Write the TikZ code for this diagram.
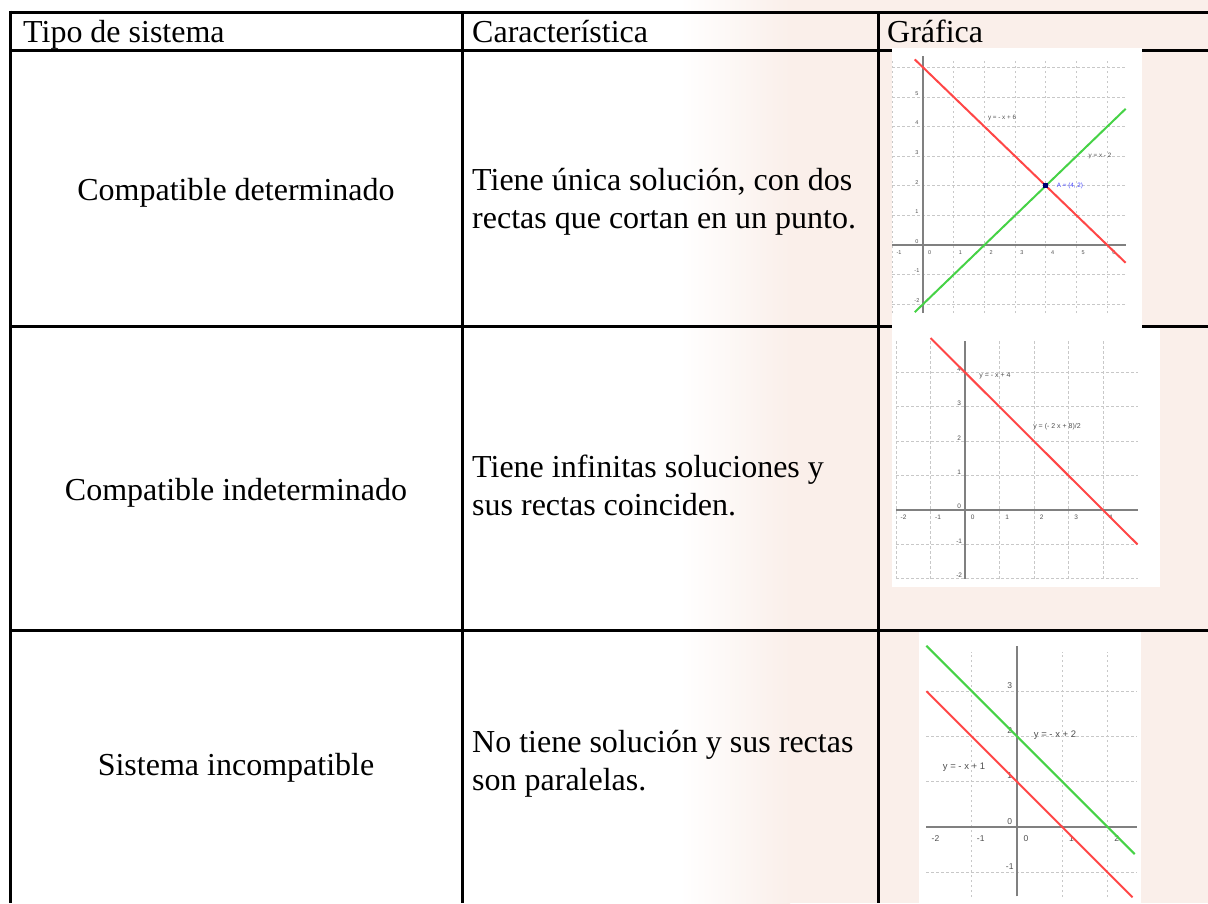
\documentclass[tikz,border=0pt]{standalone}
\usepackage{fontspec}
\setmainfont{Liberation Serif}
\newfontfamily\graphfont{Liberation Sans}
\definecolor{pinkbg}{RGB}{250,239,234}
\definecolor{gridc}{RGB}{200,200,200}
\definecolor{axisc}{RGB}{128,128,128}
\definecolor{redc}{RGB}{255,70,70}
\definecolor{greenc}{RGB}{70,210,70}
\definecolor{labc}{RGB}{80,80,80}
\definecolor{bluec}{RGB}{70,70,255}
\definecolor{navyc}{RGB}{0,0,110}
\begin{document}
\begin{tikzpicture}[x=1pt,y=-1pt,
  tline/.style={line width=3pt,black},
  celltext/.style={font=\fontsize{32}{37}\selectfont,inner sep=0pt,anchor=base west},
  celltextc/.style={font=\fontsize{32}{37}\selectfont,inner sep=0pt,anchor=base},
  gridl/.style={gridc,line width=0.9pt,dash pattern=on 2.5pt off 2.5pt},
  axisl/.style={axisc,line width=1.6pt},
  redl/.style={redc,line width=2pt},
  greenl/.style={greenc,line width=2pt},
  tickA/.style={font=\graphfont\fontsize{5.5}{6}\selectfont,labc,inner sep=0pt},
  tickB/.style={font=\graphfont\fontsize{6.5}{7}\selectfont,labc,inner sep=0pt},
  tickC/.style={font=\graphfont\fontsize{8.5}{9}\selectfont,labc,inner sep=0pt},
  eqA/.style={font=\graphfont\fontsize{6.3}{7}\selectfont,labc,inner sep=0pt},
  eqB/.style={font=\graphfont\fontsize{7}{8}\selectfont,labc,inner sep=0pt},
  eqC/.style={font=\graphfont\fontsize{9.5}{10}\selectfont,labc,inner sep=0pt}]
\useasboundingbox (0,0) rectangle (1208,903);
% background
\fill[white] (0,0) rectangle (680,903);
\shade[left color=white,right color=pinkbg] (680,0) rectangle (790,903);
\fill[pinkbg] (790,0) rectangle (1208,903);
% table rules
\draw[tline] (10,12) -- (1208,12);
\draw[tline] (10,50) -- (1208,50);
\draw[tline] (10,326) -- (1208,326);
\draw[tline] (10,630) -- (1208,630);
\draw[tline] (10,10.5) -- (10,903);
\draw[tline] (462,12) -- (462,903);
\draw[tline] (878,12) -- (878,903);
% graph backgrounds
\fill[white] (892,48) rectangle (1142,328);
\fill[white] (892,328) rectangle (1160,587);
\fill[white] (919,631.5) rectangle (1141,903);
% ---------- graph 1 ----------
\begin{scope}[shift={(923,245)},x=30.7pt,y=29.6pt]
  \foreach \i in {-1,1,2,...,6} \draw[gridl] (\i,-2.3) -- (\i,6.3);
  \foreach \j in {-2,-1,1,2,...,6} \draw[gridl] (-1,\j) -- (6.6,\j);
  \draw[axisl] (-1,0) -- (6.6,0);
  \draw[axisl] (0,-2.3) -- (0,6.4);
  \foreach \i in {-1,0,...,6} \node[tickA] (g1x\i) at (\i+0.22,-0.25) {\i};
  \foreach \j in {-2,-1,0,...,5} \node[tickA] (g1y\j) at (-0.2,\j+0.12) {\j};
  \draw[redl] (-0.27,6.27) -- (6.6,-0.6);
  \draw[greenl] (-0.27,-2.27) -- (6.6,4.6);
  \coordinate (ptA) at (4,2);
\end{scope}
\fill[navyc] (ptA) ++(-2.5pt,-2.5pt) rectangle ++(5pt,5pt);
\node[eqA] (g1e1) at (1002,118) {y = - x + 6};
\node[eqA] (g1e2) at (1100,156) {y = x - 2};
\node[eqA,bluec] (g1e3) at (1070,186) {A = (4, 2)};
% ---------- graph 2 ----------
\begin{scope}[shift={(965,510)},x=34.5pt,y=34.4pt]
  \foreach \i in {-2,-1,1,2,3,4} \draw[gridl] (\i,-2) -- (\i,4.9);
  \foreach \j in {-2,-1,1,2,3,4} \draw[gridl] (-2,\j) -- (5,\j);
  \draw[axisl] (-2,0) -- (5,0);
  \draw[axisl] (0,-2) -- (0,4.9);
  \foreach \i in {-2,-1,0,...,4} \node[tickB] (g2x\i) at (\i+0.22,-0.22) {\i};
  \foreach \j in {-2,-1,0,...,4} \node[tickB] (g2y\j) at (-0.17,\j+0.1) {\j};
  \draw[redl] (-1,5) -- (5,-1);
\end{scope}
\node[eqB] (g2e1) at (995,376) {y = - x + 4};
\node[eqB] (g2e2) at (1057,427) {y = (- 2 x + 8)/2};
% ---------- graph 3 ----------
\begin{scope}[shift={(1017,827)},x=45.3pt,y=45.3pt]
  \foreach \i in {-1,1,2} \draw[gridl] (\i,-1.55) -- (\i,3.86);
  \foreach \j in {-1,1,2,3} \draw[gridl] (-2,\j) -- (2.65,\j);
  \draw[axisl] (-2,0) -- (2.65,0);
  \draw[axisl] (0,-1.53) -- (0,4.0);
  \foreach \i in {-2,-1,0,1,2} \node[tickC] (g3x\i) at (\i+0.2,-0.25) {\i};
  \foreach \j in {-1,0,1,2,3} \node[tickC] (g3y\j) at (-0.16,\j+0.13) {\j};
  \draw[greenl] (-2,4) -- (2.6,-0.6);
  \draw[redl] (-2,3) -- (2.55,-1.55);
\end{scope}
\node[eqC] (g3e1) at (1055,735) {y = - x + 2};
\node[eqC] (g3e2) at (964,767) {y = - x + 1};
% ---------- texts ----------
\node[celltext] (h1) at (23,42) {Tipo de sistema};
\node[celltext] (h2) at (472,42) {Característica};
\node[celltext] (h3) at (887,42) {Gráfica};
\node[celltextc] (r1a) at (236,200) {Compatible determinado};
\node[celltext] (r1b1) at (472,190) {Tiene única solución, con dos};
\node[celltext] (r1b2) at (472,228) {rectas que cortan en un punto.};
\node[celltextc] (r2a) at (236,500) {Compatible indeterminado};
\node[celltext] (r2b1) at (472,477) {Tiene infinitas soluciones y};
\node[celltext] (r2b2) at (472,515) {sus rectas coinciden.};
\node[celltextc] (r3a) at (236,775) {Sistema incompatible};
\node[celltext] (r3b1) at (472,752) {No tiene solución y sus rectas};
\node[celltext] (r3b2) at (472,790) {son paralelas.};
\end{tikzpicture}
\end{document}
